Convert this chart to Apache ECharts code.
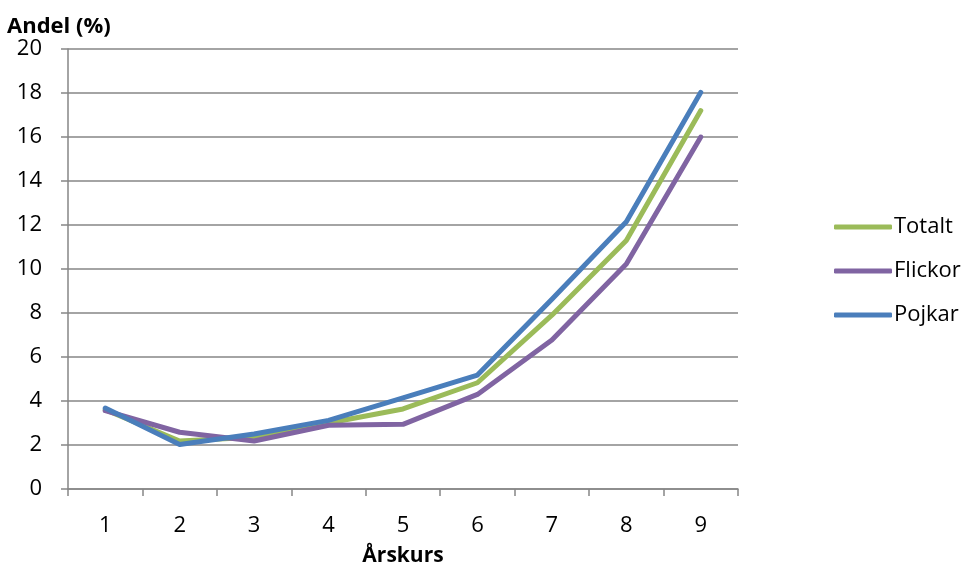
<!DOCTYPE html>
<html><head><meta charset="utf-8">
<script src="https://cdn.jsdelivr.net/npm/echarts@6/dist/echarts.min.js"></script>
<style>html,body{margin:0;padding:0;background:#fff}#c{width:967px;height:566px}</style>
</head><body><div id="c"></div>
<script>
const categories = ['1','2','3','4','5','6','7','8','9'];
const totalt  = [3.6, 2.18, 2.35, 3.0, 3.64, 4.83, 7.9, 11.3, 17.2];
const flickor = [3.56, 2.58, 2.18, 2.9, 2.94, 4.3, 6.77, 10.23, 16.0];
const pojkar  = [3.68, 2.02, 2.5, 3.12, 4.14, 5.18, 8.62, 12.15, 18.03];
const yTitle = 'Andel (%)';
const xTitle = 'Årskurs';
const font = 'Open Sans, Liberation Sans, sans-serif';
const chart = echarts.init(document.getElementById('c'));
const mk = (name, data, color) => ({name, type:'line', data, symbol:'none', smooth:false,
  lineStyle:{width:5, color, cap:'round', join:'round'}, itemStyle:{color}});
chart.setOption({
  animation:false,
  graphic:[
    {type:'text', left:7, top:16, style:{text:yTitle, font:'bold 22px ' + font, fill:'#000'}},
    {type:'text', x:403, y:556, style:{text:xTitle, font:'bold 21px ' + font, fill:'#000', align:'center', verticalAlign:'middle'}}
  ],
  legend:{orient:'vertical', left:829, top:211, itemGap:22, itemWidth:58, itemHeight:5, icon:'roundRect',
    textStyle:{fontFamily:font, fontSize:22, color:'#000', padding:[0,0,0,-3]},
    data:['Totalt','Flickor','Pojkar']},
  grid:{left:68, right:229, top:49, bottom:77},
  xAxis:{type:'category', data:categories, boundaryGap:true,
    axisLine:{lineStyle:{color:'#868686', width:1.5}},
    axisTick:{show:true, length:7, lineStyle:{color:'#868686', width:1.5}},
    axisLabel:{fontFamily:font, fontSize:22, color:'#000', margin:26}},
  yAxis:{type:'value', min:0, max:20, interval:2,
    axisLine:{show:true, lineStyle:{color:'#868686', width:1.5}},
    axisTick:{show:true, length:7, lineStyle:{color:'#868686', width:1.5}},
    splitLine:{lineStyle:{color:'#868686', width:1.5}},
    axisLabel:{fontFamily:font, fontSize:22, color:'#000', margin:26}},
  series:[mk('Totalt', totalt, '#9BBB59'), mk('Flickor', flickor, '#8064A2'), mk('Pojkar', pojkar, '#4A7EBB')]
});
</script></body></html>
